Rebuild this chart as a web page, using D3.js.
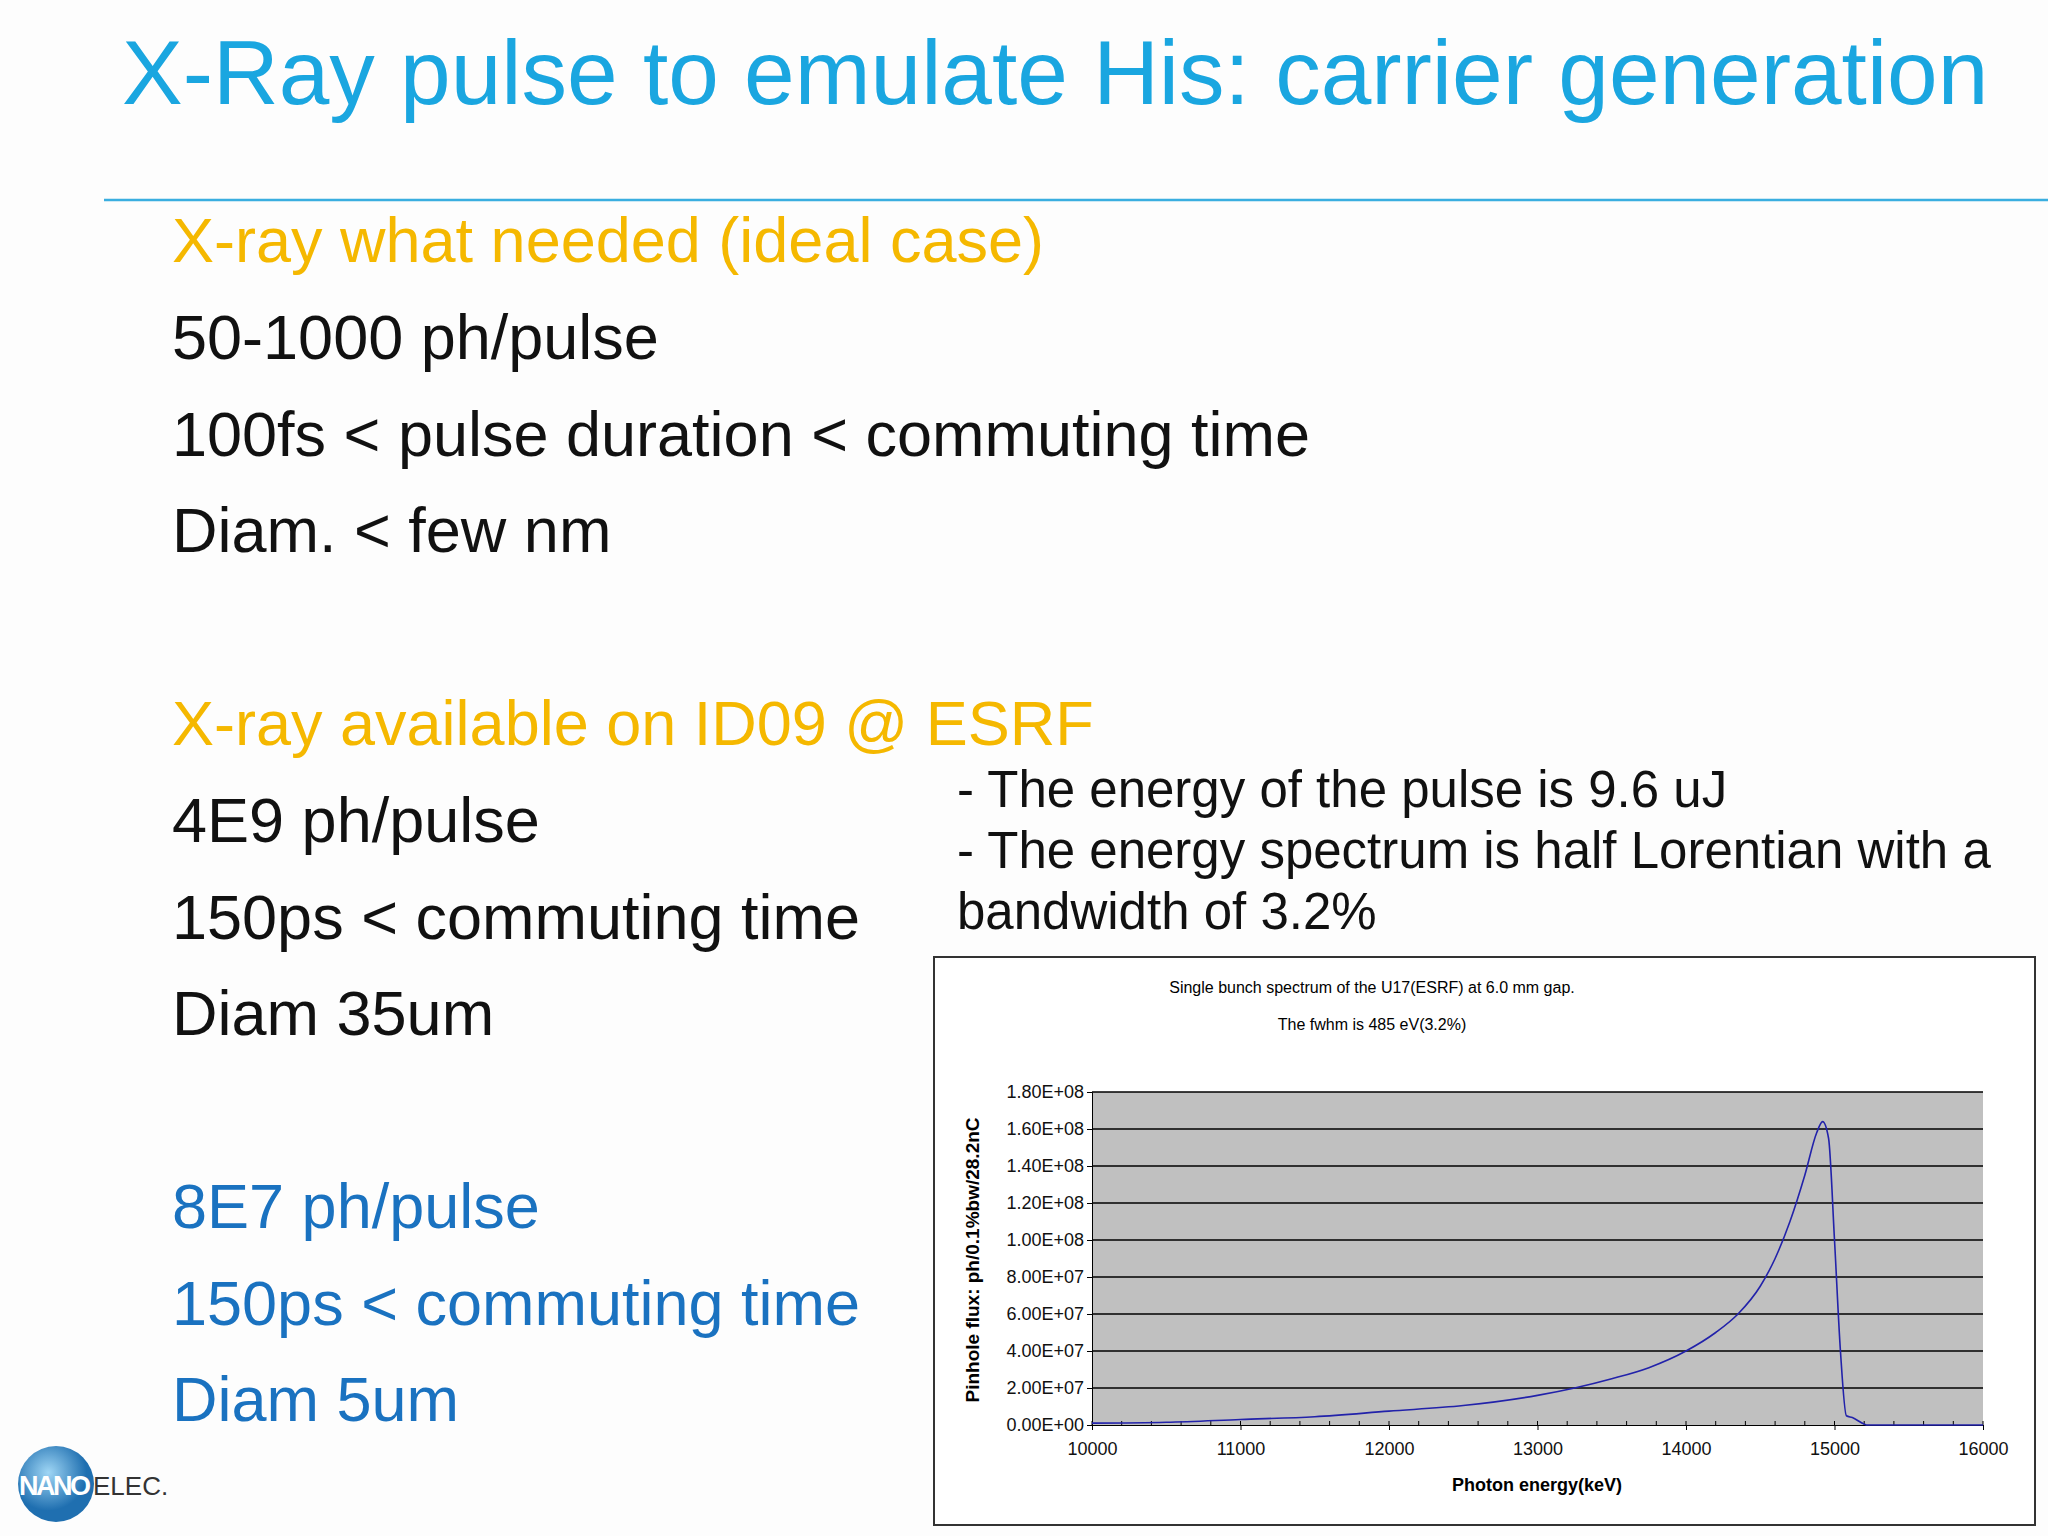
<!DOCTYPE html>
<html><head><meta charset="utf-8">
<script src="https://cdn.jsdelivr.net/npm/d3@7"></script>
<style>body{margin:0;background:#fff}svg{display:block}</style>
</head><body>
<div id="chart"></div>
<script>
// spectrum (photon energy, flux)
var energy = [10000,10500,11000,11500,12000,12500,13000,13250,13500,13750,14000,14200,14350,14500,14600,14700,14800,14880,14920,14960,15000,15040,15080,15120,15200,15220,16000];
var flux   = [1.0e6,1.5e6,3.0e6,4.5e6,7.5e6,1.05e7,1.6e7,2.0e7,2.5e7,3.1e7,4.0e7,5.0e7,6.0e7,7.5e7,9.0e7,1.1e8,1.35e8,1.58e8,1.64e8,1.55e8,1.0e8,4.0e7,5.0e6,4.0e6,5.0e5,0,0];
var xTicks = [10000,11000,12000,13000,14000,15000,16000];
var yTicks = [0,2e7,4e7,6e7,8e7,1e8,1.2e8,1.4e8,1.6e8,1.8e8];

var blackLines = ["50-1000 ph/pulse","100fs < pulse duration < commuting time","Diam. < few nm"];
var esrfLines = ["4E9 ph/pulse","150ps < commuting time","Diam 35um"];
var blueLines = ["8E7 ph/pulse","150ps < commuting time","Diam 5um"];
var noteLines = ["- The energy of the pulse is 9.6 uJ","- The energy spectrum is half Lorentian with a","bandwidth of 3.2%"];

var svg = d3.select("#chart").append("svg").attr("width",2048).attr("height",1536)
	.style("font-family","Arial, 'Liberation Sans', sans-serif");

svg.append("rect").attr("width",2048).attr("height",1536).attr("fill","#fdfdfd");
svg.append("text").attr("x",122).attr("y",104).attr("font-size",91).attr("fill","#1aa6e0")
	.text("X-Ray pulse to emulate His: carrier generation");
svg.append("line").attr("x1",104).attr("x2",2048).attr("y1",200).attr("y2",200).attr("stroke","#3aaee0").attr("stroke-width",2.5);

function block(lines, y0, color) {
	lines.forEach(function(t,i){
		svg.append("text").attr("x",172).attr("y",y0+i*96.5).attr("font-size",63).attr("fill",color).text(t);
	});
}
svg.append("text").attr("x",172).attr("y",262).attr("font-size",63).attr("fill","#f5b800").text("X-ray what needed (ideal case)");
block(blackLines,359,"#111");
svg.append("text").attr("x",172).attr("y",745).attr("font-size",63).attr("fill","#f5b800").text("X-ray available on ID09 @ ESRF");
block(esrfLines,842,"#111");
block(blueLines,1228,"#1a72c0");
noteLines.forEach(function(t,i){
	svg.append("text").attr("x",957).attr("y",807+i*61).attr("font-size",51).attr("fill","#111").text(t);
});

// logo
var logo = svg.append("g");
var grad = svg.append("defs").append("radialGradient").attr("id","lg").attr("cx","40%").attr("cy","35%");
grad.append("stop").attr("offset","0%").attr("stop-color","#9fd6f5");
grad.append("stop").attr("offset","100%").attr("stop-color","#1f6fb0");
logo.append("circle").attr("cx",56).attr("cy",1484).attr("r",38).attr("fill","url(#lg)");
logo.append("text").attr("x",19).attr("y",1495).attr("font-size",27).attr("font-weight","bold").attr("fill","#fff").attr("textLength",72).text("NANO");
logo.append("text").attr("x",93).attr("y",1495).attr("font-size",26).attr("fill","#333").text("ELEC.");

// chart frame
svg.append("rect").attr("x",934).attr("y",957).attr("width",1101).attr("height",568)
	.attr("fill","#fff").attr("stroke","#333").attr("stroke-width",2);

var nf = "'Liberation Sans Narrow', 'Arial Narrow', Arial, sans-serif";
svg.append("text").attr("x",1372).attr("y",993).attr("text-anchor","middle").attr("font-size",16).attr("font-family",nf)
	.text("Single bunch spectrum of the U17(ESRF) at 6.0 mm gap.");
svg.append("text").attr("x",1372).attr("y",1030).attr("text-anchor","middle").attr("font-size",16).attr("font-family",nf)
	.text("The fwhm is 485 eV(3.2%)");

var pl = 1092, pr = 1983, pt = 1092, pb = 1425;
var x = d3.scaleLinear().domain([10000,16000]).range([pl,pr]);
var y = d3.scaleLinear().domain([0,1.8e8]).range([pb,pt]);

var g = svg.append("g");
g.append("rect").attr("x",pl).attr("y",pt).attr("width",pr-pl).attr("height",pb-pt).attr("fill","#c0c0c0");
g.selectAll(".grid").data(yTicks.slice(1)).enter().append("line")
	.attr("x1",pl).attr("x2",pr).attr("y1",function(d){return y(d);}).attr("y2",function(d){return y(d);})
	.attr("stroke","#000").attr("stroke-width",1.5);

var yAxis = d3.axisLeft(y).tickValues(yTicks).tickSize(5)
	.tickFormat(function(d){ if (d===0) return "0.00E+00"; var e=Math.floor(Math.log10(d)); return (d/Math.pow(10,e)).toFixed(2)+"E+"+(e<10?"0":"")+e; });
var xAxis = d3.axisBottom(x).tickValues(xTicks).tickSize(5).tickPadding(12).tickFormat(d3.format("d"));

var ya = g.append("g").attr("transform","translate("+pl+",0)").call(yAxis);
var xa = g.append("g").attr("transform","translate(0,"+pb+")").call(xAxis);
[ya,xa].forEach(function(a){
	a.selectAll("text").attr("font-size",18).attr("font-family",nf).attr("fill","#111");
	a.select(".domain").attr("stroke","#000");
});
// minor ticks on x axis
xa.selectAll(".minor").data(d3.range(10000,16001,200)).enter().append("line")
	.attr("x1",function(d){return x(d);}).attr("x2",function(d){return x(d);}).attr("y1",-4).attr("y2",0).attr("stroke","#000");

g.append("path").datum(energy.map(function(e,i){return [e,flux[i]];}))
	.attr("fill","none").attr("stroke","#2222aa").attr("stroke-width",1.6)
	.attr("d", d3.line().x(function(d){return x(d[0]);}).y(function(d){return y(d[1]);}).curve(d3.curveMonotoneX));

svg.append("text").attr("x",1537).attr("y",1491).attr("text-anchor","middle").attr("font-size",18).attr("font-weight","bold").attr("font-family",nf)
	.text("Photon energy(keV)");
svg.append("text").attr("transform","translate(979,1260) rotate(-90)").attr("text-anchor","middle").attr("font-size",19).attr("font-weight","bold")
	.text("Pinhole flux: ph/0.1%bw/28.2nC");
</script>
</body></html>
